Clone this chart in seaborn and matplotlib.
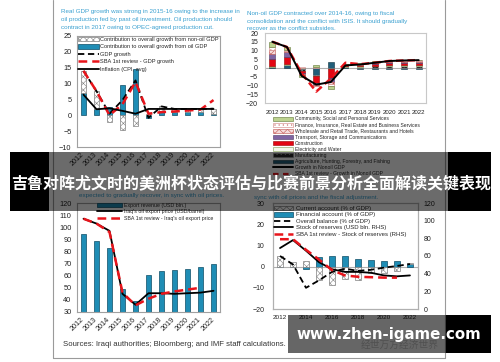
import numpy as np
import matplotlib
matplotlib.use("Agg")
import matplotlib.pyplot as plt
import seaborn as sns
from matplotlib.patches import Patch, Rectangle
from matplotlib.lines import Line2D

sns.set_style("white")
plt.rcParams['font.family'] = ['Liberation Sans Narrow', 'Liberation Sans', 'DejaVu Sans']
plt.rcParams['hatch.linewidth'] = 0.4

# ---------------- data ----------------
years = [2012, 2013, 2014, 2015, 2016, 2017, 2018, 2019, 2020, 2021, 2022]

# panel 1: real GDP growth
p1_oil = [7.0, 2.0, 2.5, 9.5, 14.5, -1.0, 1.5, 1.0, 1.0, 1.0, 0.5]
p1_nonoil = [7.0, 5.6, -2.0, -4.6, -3.3, 0.3, 1.3, 1.0, 1.0, 1.0, 1.6]
p1_gdp = [14.0, 7.6, 0.5, 4.8, 11.0, -0.8, 2.8, 2.0, 2.0, 2.0, 2.1]
p1_sba = [14.0, 7.6, 0.0, 3.5, 10.5, 0.5, 1.0, 1.2, 1.5, 1.8, 4.8]
p1_infl = [6.5, 1.9, 2.2, 1.4, 0.5, 2.0, 2.0, 2.0, 2.0, 2.0, 2.0]

# panel 2: non-oil GDP by sector (contributions)
agriculture = [0.3, 1.5, -0.5, -4.0, 3.5, 0.3, -0.5, -0.8, -0.3, -0.3, -0.3]
manufacturing = [0.4, 0.5, -1.0, -0.5, -0.5, 0.5, 0.8, 1.0, 1.2, 1.2, 1.2]
electricity = [0.3, 0.3, 0.2, -0.3, -0.3, 0.2, 0.2, 0.3, 0.3, 0.3, 0.3]
construction = [4.0, 4.0, -1.5, -4.0, -5.0, 0.5, 0.6, 1.0, 1.2, 1.3, 1.3]
transport = [3.0, 3.0, -0.5, -0.7, -2.0, 0.2, 0.3, 0.5, 0.6, 0.6, 0.6]
wholesale = [2.5, 0.7, -0.5, -0.5, -1.5, 0.2, 0.3, 0.4, 0.5, 0.5, 0.5]
finance = [1.5, 0.5, 0.3, 0.5, -1.0, 0.1, 0.2, 0.3, 0.3, 0.4, 0.4]
community = [3.0, 1.5, -1.0, 1.0, -1.5, 0.1, 0.2, 0.3, 0.4, 0.5, 0.5]
p2_growth = [15.0, 12.0, -4.5, -9.5, -8.0, 1.5, 2.0, 3.0, 4.0, 4.3, 4.5]
p2_sba = [15.0, 12.0, -3.0, -13.5, -6.0, 3.0, 2.2, 3.0, 4.0, 4.3, 4.5]

# panel 3: exports
p3_exports = [94, 89, 83, 49, 39, 60.5, 64, 64.5, 65.5, 67.5, 70]
p3_price = [107, 103, 97, 45, 36, 45.5, 45.5, 45, 45.5, 46, 47.5]
p3_sba = [107, 103, 96, 46, 35.5, 41, 45, 47, 48.5, 50, np.nan]

# panel 4: external balances
p4_ca = [4.8, 2.0, 2.5, -6.5, -8.8, -6.0, -6.5, -3.2, -3.0, -2.3, 0.3]
p4_fa = [0.0, 0.0, -1.3, 4.6, 5.1, 5.0, 3.7, 3.2, 2.8, 2.5, 1.4]
p4_overall = [5.0, 1.0, -10.0, -6.5, -2.5, -1.0, -2.0, -1.5, -0.5, 0.3, 1.2]
p4_reserves = [69, 78, 66, 53, 45, 42, 42, 41, 38, 37, 38]
p4_sba = [79, 79, 67, 56, 44, 38, 36.5, 36, 35.5, 35.5, np.nan]

title1 = ["Real GDP growth was strong in 2015-16 owing to the increase in",
          "oil production fed by past oil investment. Oil production should",
          "contract in 2017 owing to OPEC-agreed production cut."]
title2 = ["Non-oil GDP contracted over 2014-16, owing to fiscal",
          "consolidation and the conflict with ISIS. It should gradually",
          "recover as the conflict subsides."]
title3 = ["expected to gradually recover, in sync with oil prices."]
title4 = ["sync with oil prices and the fiscal adjustment."]

# ---------------- layout helpers ----------------
W, H = 500, 362
fig = plt.figure(figsize=(5, 3.62), dpi=100)
fig.patch.set_facecolor('white')

def px_axes(x0, y0, x1, y1):
    return fig.add_axes([x0 / W, 1 - y1 / H, (x1 - x0) / W, (y1 - y0) / H])

def ftext(x, y, s, **kw):
    return fig.text(x / W, 1 - y / H, s, **kw)

def fy(y):
    return 1 - y / H

BLUE = '#1f8db5'
BLUE_E = '#0e4d66'
TITLE_C = '#3aa0d0'
HATCH_KW = dict(facecolor='white', edgecolor='#808080', hatch='xxxxx', lw=0.5)
TICK_C = '#222222'
idx = np.arange(len(years))

def style_box(ax, color='#a0a0a0'):
    for s in ax.spines.values():
        s.set_color(color)
        s.set_linewidth(0.8)

# ---------------- panel 1 ----------------
ax1 = px_axes(77, 36, 220, 147)
oil = np.array(p1_oil)
non = np.array(p1_nonoil)
bottom_non = np.where(np.sign(oil) == np.sign(non), oil, 0)
ax1.bar(idx, oil, 0.45, color=BLUE, edgecolor=BLUE_E, lw=0.5, zorder=2)
ax1.bar(idx, non, 0.45, bottom=bottom_non, zorder=2, **HATCH_KW)
sns.lineplot(x=idx, y=p1_gdp, ax=ax1, color='black', lw=1.3, linestyle=(0, (3.5, 2)), zorder=3)
sns.lineplot(x=idx, y=p1_sba, ax=ax1, color='#e8141b', lw=1.8, linestyle=(0, (3.5, 2)), zorder=4)
sns.lineplot(x=idx, y=p1_infl, ax=ax1, color='black', lw=1.3, zorder=5)
ax1.set_xlim(-0.5, 10.5)
ax1.set_ylim(-10, 25)
ax1.set_yticks(range(-10, 26, 5))
ax1.set_xticks(idx)
ax1.set_xticklabels([str(y) for y in years], rotation=45, ha='right', va='center', rotation_mode='anchor')
ax1.tick_params(axis='y', labelsize=5.3, pad=4, length=0, colors=TICK_C)
ax1.tick_params(axis='x', labelsize=5.2, pad=5, length=0, colors=TICK_C)
style_box(ax1)
for i, t in enumerate(title1):
    ftext(61, 11.5 + 8 * i, t, fontsize=4.5, color=TITLE_C, va='center')
h1 = [Patch(**HATCH_KW), Patch(facecolor=BLUE, edgecolor=BLUE_E, lw=0.5),
      Line2D([], [], color='black', lw=1.3, ls=(0, (3.5, 2))),
      Line2D([], [], color='#e8141b', lw=1.8, ls=(0, (3.5, 2))),
      Line2D([], [], color='black', lw=1.3)]
l1 = ["Contribution to overall growth from non-oil GDP", "Contribution to overall growth from oil GDP",
      "GDP growth", "SBA 1st review - GDP growth", "Inflation (CPI, avg)"]
fig.legend(h1, l1, loc='upper left', bbox_to_anchor=(78 / W, fy(36.5)), frameon=False, fontsize=4.1,
           handlelength=3.6, handleheight=0.9, handletextpad=0.35, labelspacing=0.38, borderpad=0, borderaxespad=0)

# ---------------- panel 2 ----------------
ax2 = px_axes(265, 33, 426, 103)
sectors = [
    ("Agriculture, Hunting, Forestry, and Fishing", agriculture, dict(facecolor='#215e79', edgecolor='#0d2f3d')),
    ("Manufacturing", manufacturing, dict(facecolor='#2a2a2a', edgecolor='#9a9a9a', hatch='....')),
    ("Electricity and Water", electricity, dict(facecolor='#f4f8ec', edgecolor='#7f9a50')),
    ("Construction", construction, dict(facecolor='#e30613', edgecolor='#9a0000')),
    ("Transport, Storage and Communications", transport, dict(facecolor='#8064a2', edgecolor='#4b3a63')),
    ("Wholesale and Retail Trade, Restaurants and Hotels", wholesale, dict(facecolor='#f6dcdb', edgecolor='#c0504d', hatch='xxxx')),
    ("Finance, Insurance, Real Estate and Business Services", finance, dict(facecolor='white', edgecolor='#d07f7c', hatch='....')),
    ("Community, Social and Personal Services", community, dict(facecolor='#bcd28f', edgecolor='#5f7434')),
]
pos_b = np.zeros(len(years))
neg_b = np.zeros(len(years))
for name, vals, st in sectors:
    v = np.array(vals)
    b = np.where(v >= 0, pos_b, neg_b)
    ax2.bar(idx, v, 0.4, bottom=b, lw=0.4, zorder=2, **st)
    pos_b = pos_b + np.where(v >= 0, v, 0)
    neg_b = neg_b + np.where(v < 0, v, 0)
ax2.axhline(0, color='#b0b0b0', lw=0.8, zorder=1)
sns.lineplot(x=idx, y=p2_sba, ax=ax2, color='#e8141b', lw=1.8, linestyle=(0, (3, 1.6)), zorder=4)
sns.lineplot(x=idx, y=p2_growth, ax=ax2, color='black', lw=1.4, zorder=5)
ax2.set_xlim(-0.5, 10.5)
ax2.set_ylim(-20, 20)
ax2.set_yticks(range(-20, 21, 5))
ax2.set_xticks(idx)
ax2.set_xticklabels([str(y) for y in years])
ax2.tick_params(axis='y', labelsize=5.0, pad=5, length=0, colors=TICK_C)
ax2.tick_params(axis='x', labelsize=4.4, pad=5, length=0, colors=TICK_C)
style_box(ax2, '#c8c8c8')
for i, t in enumerate(title2):
    ftext(247, 13 + 8 * i, t, fontsize=4.5, color=TITLE_C, va='center')
h2 = [Patch(lw=0.4, **st) for _, _, st in sectors[::-1]] + [
    Line2D([], [], color='black', lw=1.4), Line2D([], [], color='#e8141b', lw=1.6, ls=(0, (2.5, 2)))]
l2 = [n for n, _, _ in sectors[::-1]] + ["Growth in Nonoil GDP", "SBA 1st review - Growth in Nonoil GDP"]
fig.legend(h2, l2, loc='upper left', bbox_to_anchor=(273 / W, fy(116.5)), frameon=False, fontsize=3.6,
           handlelength=4.0, handleheight=0.8, handletextpad=0.4, labelspacing=0.22, borderpad=0, borderaxespad=0)

# ---------------- panel 3 ----------------
ax3 = px_axes(77, 203, 220, 312)
sns.barplot(x=idx, y=p3_exports, ax=ax3, color=BLUE, saturation=1, width=0.45,
            edgecolor=BLUE_E, linewidth=0.5, zorder=2)
sns.lineplot(x=idx, y=p3_price, ax=ax3, color='black', lw=1.3, zorder=4)
sns.lineplot(x=idx, y=p3_sba, ax=ax3, color='#e8141b', lw=1.8, linestyle=(0, (3.5, 2)), zorder=5)
ax3.set_xlim(-0.5, 10.5)
ax3.set_ylim(30, 120)
ax3.set_yticks(range(30, 121, 10))
ax3.set_xticks(idx)
ax3.set_xticklabels([str(y) for y in years], rotation=45, ha='right', va='center', rotation_mode='anchor')
ax3.tick_params(axis='y', labelsize=5.3, pad=4, length=0, colors=TICK_C)
ax3.tick_params(axis='x', labelsize=5.2, pad=5, length=0, colors=TICK_C)
ax3.set_xlabel('')
ax3.set_ylabel('')
style_box(ax3)
for i, t in enumerate(title3):
    ftext(79, 195 + 8 * i, t, fontsize=4.5, color=TITLE_C, va='center')
h3 = [Patch(facecolor=BLUE, edgecolor=BLUE_E, lw=0.5), Line2D([], [], color='black', lw=1.3),
      Line2D([], [], color='#e8141b', lw=1.8, ls=(0, (3.5, 2)))]
l3 = ["Export revenue (USD bln.)", "Iraq's oil export price (USD/barrel)", "SBA 1st review - Iraq's oil export price"]
fig.legend(h3, l3, loc='upper left', bbox_to_anchor=(97 / W, fy(203)), frameon=False, fontsize=3.8,
           handlelength=4.8, handleheight=0.8, handletextpad=0.4, labelspacing=0.25, borderpad=0, borderaxespad=0)
ftext(63, 345, "Sources: Iraqi authorities; Bloomberg; and IMF staff calculations.", fontsize=5.6,
      color='#333333', va='center', family=['Liberation Sans', 'DejaVu Sans'])

# ---------------- panel 4 ----------------
ax4 = px_axes(273, 203, 418, 309)
ca = np.array(p4_ca)
fa = np.array(p4_fa)
ax4.bar(idx, fa, 0.45, color=BLUE, edgecolor=BLUE_E, lw=0.5, zorder=2)
ax4.bar(idx, ca, 0.45, bottom=np.where(np.sign(ca) == np.sign(fa), fa, 0), zorder=2, **HATCH_KW)
ax4.axhline(0, color='#b0b0b0', lw=0.8, zorder=1)
sns.lineplot(x=idx, y=p4_overall, ax=ax4, color='black', lw=1.3, linestyle=(0, (3.5, 2)), zorder=4)
ax4.set_xlim(-0.54, 10.62)
ax4.set_ylim(-20, 30)
ax4.set_yticks(range(-20, 31, 10))
ax4.set_xticks(idx[::2])
ax4.set_xticklabels([str(y) for y in years[::2]])
ax4.tick_params(axis='y', labelsize=5.0, pad=6, length=0, colors=TICK_C)
ax4.tick_params(axis='x', labelsize=4.6, pad=4, length=0, colors=TICK_C)
style_box(ax4, '#b0b0b0')
ax4r = ax4.twinx()
sns.lineplot(x=idx, y=p4_reserves, ax=ax4r, color='black', lw=1.3, zorder=4)
sns.lineplot(x=idx, y=p4_sba, ax=ax4r, color='#e8141b', lw=1.8, linestyle=(0, (3.5, 2)), zorder=5)
ax4r.set_ylim(0, 120)
ax4r.set_yticks(range(0, 121, 20))
ax4r.set_xlim(-0.54, 10.62)
ax4r.tick_params(axis='y', labelsize=5.0, pad=4, length=0, colors=TICK_C)
ax4r.set_ylabel('')
style_box(ax4r, '#b0b0b0')
for i, t in enumerate(title4):
    ftext(254, 197 + 8 * i, t, fontsize=4.5, color=TITLE_C, va='center')
h4 = [Patch(**HATCH_KW), Patch(facecolor=BLUE, edgecolor=BLUE_E, lw=0.5),
      Line2D([], [], color='black', lw=1.3, ls=(0, (3.5, 2))), Line2D([], [], color='black', lw=1.3),
      Line2D([], [], color='#e8141b', lw=1.8, ls=(0, (3.5, 2)))]
l4 = ["Current account (% of GDP)", "Financial account (% of GDP)", "Overall balance (% of GDP)",
      "Stock of reserves (USD bln. RHS)", "SBA 1st review - Stock of reserves (RHS)"]
fig.legend(h4, l4, loc='upper left', bbox_to_anchor=(274 / W, fy(205.5)), frameon=False, fontsize=4.3,
           handlelength=3.2, handleheight=0.9, handletextpad=0.4, labelspacing=0.15, borderpad=0, borderaxespad=0)

ftext(400, 345, "经世万方经济世界", fontsize=7, color='#c8c8c8', ha='center', va='center',
      family=['Noto Sans CJK SC', 'DejaVu Sans'])

# ---------------- document border ----------------
for xs, ys in [([53, 53], [0, 358]), ([445, 445], [0, 358]), ([53, 445], [358, 358])]:
    fig.add_artist(Line2D([x / W for x in xs], [fy(y) for y in ys], transform=fig.transFigure,
                          color='#9a9a9a', lw=0.8, zorder=9))

# ---------------- overlays ----------------
def band(x0, x1, y0, y1, alpha):
    fig.add_artist(Rectangle((x0 / W, fy(y1)), (x1 - x0) / W, (y1 - y0) / H, transform=fig.transFigure,
                             facecolor='black', alpha=alpha, lw=0, zorder=10))

band(10, 49, 152, 211, 1.0)
band(49, 448, 152, 211, 0.58)
band(448, 491, 152, 211, 1.0)
t = ftext(251, 183, "吉鲁对阵尤文时的美洲杯状态评估与比赛前景分析全面解读关键表现", fontsize=11.5, color='white',
          fontweight='bold', ha='center', va='center', family=['Noto Sans CJK SC', 'DejaVu Sans'])
t.set_zorder(11)

band(288, 446, 315, 353, 0.6)
band(446, 491, 315, 353, 1.0)
t2 = ftext(389, 334, "www.zhen-igame.com", fontsize=10.8, color='white', fontweight='bold',
           ha='center', va='center', family=['DejaVu Sans'])
t2.set_zorder(11)

fig.savefig("out.png", dpi=100, facecolor='white')
